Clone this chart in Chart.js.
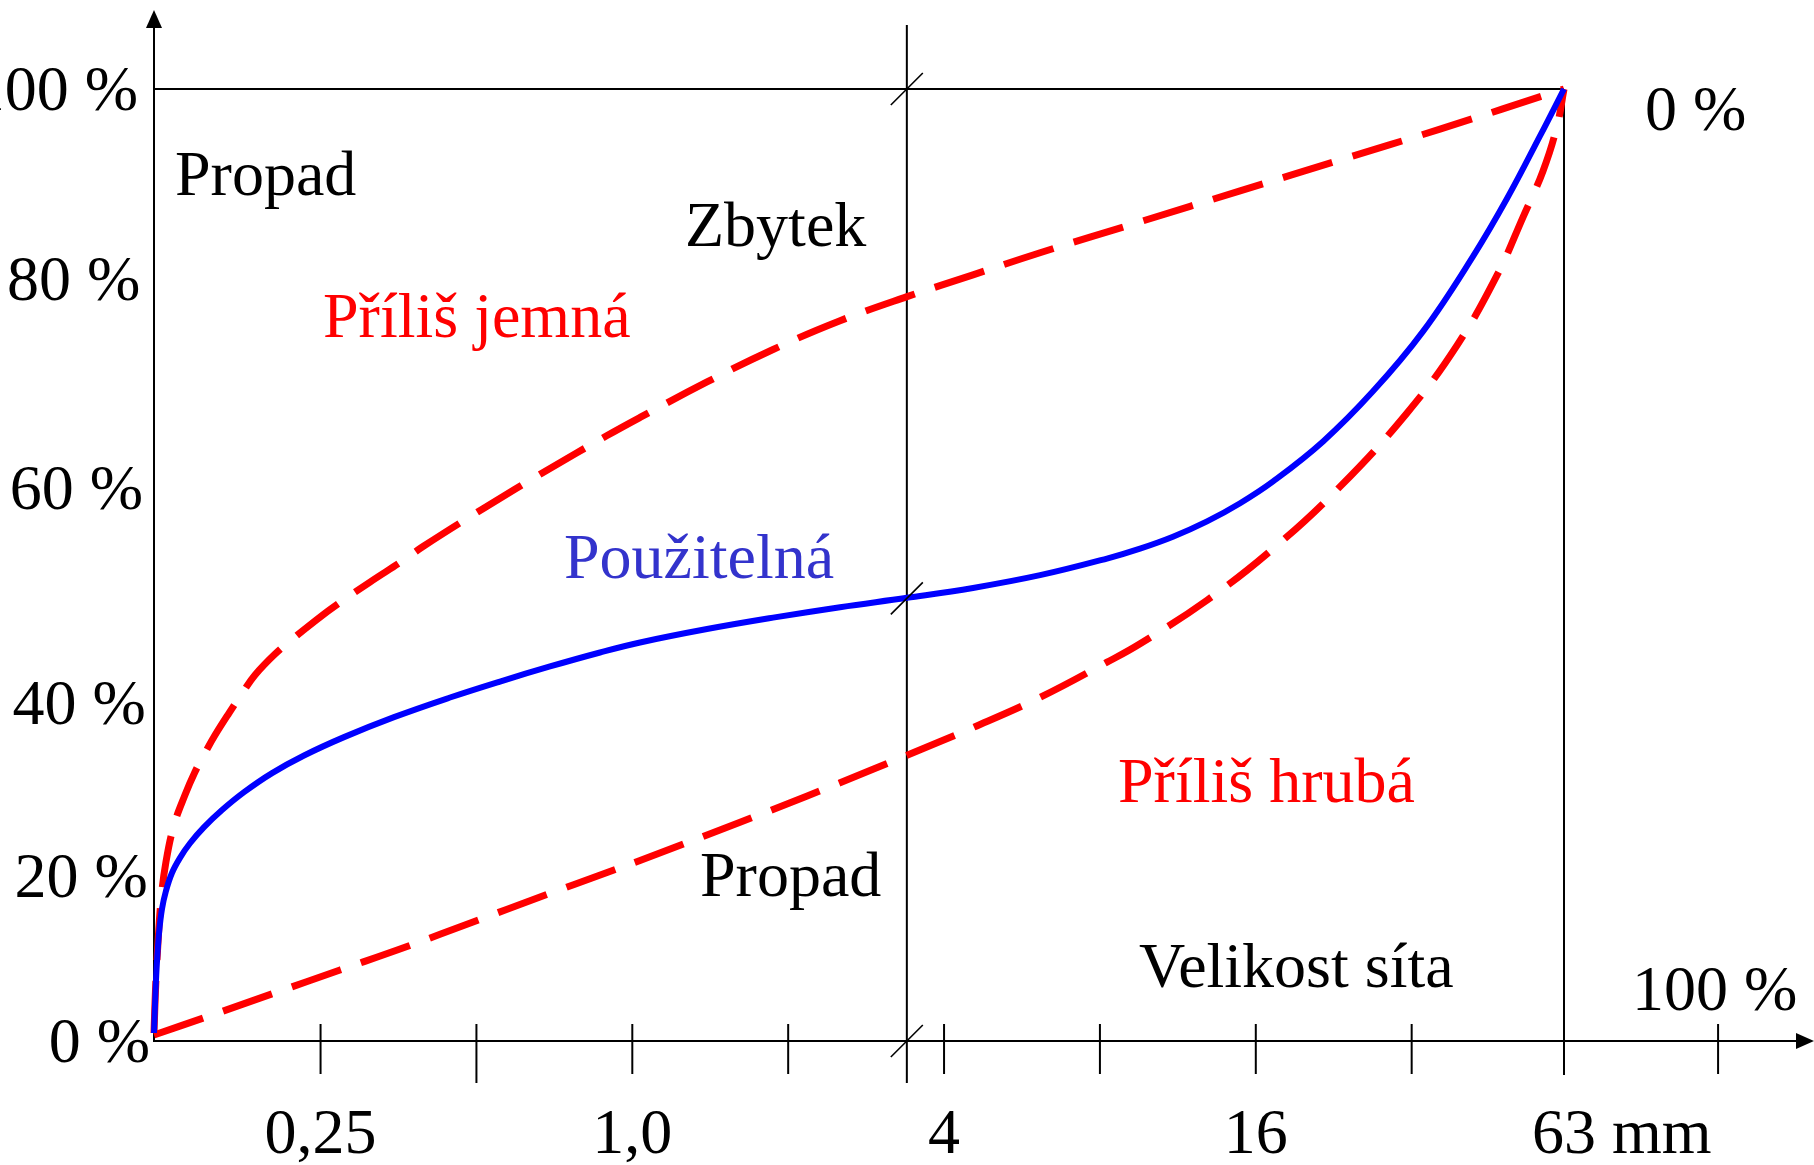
<!DOCTYPE html>
<html>
<head>
<meta charset="utf-8">
<script src="https://cdn.jsdelivr.net/npm/chart.js@4"></script>
<style>
  html, body { margin: 0; padding: 0; background: #fff; }
  canvas { display: block; }
</style>
</head>
<body>
<canvas id="sieveChart" width="1814" height="1165"></canvas>
<script>
// sieve size in mm (log axis) vs. passing in %
const usableSize = [0.1192, 0.12, 0.1208, 0.1219, 0.1235, 0.1257, 0.1291, 0.1338, 0.1399, 0.1489, 0.1613, 0.1779, 0.2015, 0.2323, 0.2775, 0.3466, 0.4446, 0.5552, 0.6935, 0.8663, 1.035, 1.394, 1.87, 2.519, 3.393, 4.55, 6.13, 8.256, 9.562, 11.07, 12.88, 14.92, 17.28, 21.58, 26.94, 33.66, 42.04, 48.9, 56.63, 63];
const usablePass = [0.84, 5.25, 8.4, 11.34, 13.87, 15.76, 17.65, 19.24, 20.77, 22.46, 24.26, 26.14, 28.14, 29.99, 31.92, 34.02, 36.08, 37.76, 39.34, 40.81, 41.86, 43.27, 44.47, 45.57, 46.55, 47.59, 48.93, 50.68, 51.72, 52.97, 54.58, 56.49, 58.78, 62.98, 68.24, 74.54, 82.42, 88.49, 95.07, 100];

const fineSize = [0.1192, 0.12, 0.1211, 0.123, 0.1257, 0.1303, 0.1368, 0.143, 0.1495, 0.1564, 0.1664, 0.1771, 0.1868, 0.2042, 0.2232, 0.2385, 0.2631, 0.3115, 0.3608, 0.3943, 0.5148, 0.6843, 0.8939, 1.035, 1.394, 1.87, 2.519, 3.393, 4.55, 6.13, 9.562, 14.92, 23.27, 36.3, 63];
const finePass = [0.84, 5.36, 9.56, 14.81, 18.8, 22.69, 25.84, 28.26, 30.25, 32.14, 34.45, 36.66, 38.45, 40.65, 42.44, 43.7, 45.48, 48.21, 50.47, 51.94, 55.91, 59.95, 63.6, 65.5, 69.23, 72.64, 75.66, 78.19, 80.48, 82.8, 86.05, 89.3, 92.54, 95.79, 100];

const coarseSize = [0.1192, 0.1509, 0.2024, 0.2726, 0.3672, 0.4925, 0.6634, 0.8939, 1.035, 1.394, 1.87, 2.519, 3.393, 4.55, 6.13, 8.256, 9.562, 12.88, 17.28, 23.27, 31.35, 39.15, 46.78, 52.51, 57.39, 61.08, 63];
const coarsePass = [0.63, 2.55, 4.99, 7.46, 9.93, 12.5, 15.13, 17.7, 18.96, 21.64, 24.32, 27.13, 30.02, 32.93, 36.09, 39.79, 41.73, 46.3, 51.71, 58.23, 65.97, 73.07, 80.44, 86.55, 91.39, 96.11, 100];

// x ticks (mm) and their labels
const xTicks = [0.25, 0.5, 1, 2, 4, 8, 16, 32, 63, 125];
const xTickLabels = ['0,25', '', '1,0', '', '4', '', '16', '', '63 mm', ''];
const xBreak = 3.39;

// y labels, placed where the drawing puts them (in %)
const yLabelAt = [0, 17.3, 35.5, 58.1, 80, 100];
const yLabels = ['0 %', '20 %', '40 %', '60 %', '80 %', '100 %'];

const pts = (xs, ys) => xs.map((v, i) => ({x: v, y: ys[i]}));
const FONT = '64px "Liberation Serif", "Times New Roman", serif';

function seg(ctx, x1, y1, x2, y2) {
    ctx.beginPath(); ctx.moveTo(x1, y1); ctx.lineTo(x2, y2); ctx.stroke();
}

const frame = {
    id: 'frame',
    beforeDatasetsDraw(chart) {
        const {ctx, chartArea: a, scales: {x, y}} = chart;
        const y0 = y.getPixelForValue(0), yTop = y.getPixelForValue(100);
        const xBr = x.getPixelForValue(xBreak), x63 = x.getPixelForValue(63);
        ctx.save();
        ctx.strokeStyle = '#000';
        ctx.fillStyle = '#000';
        ctx.lineWidth = 2;
        // axes
        seg(ctx, a.left, y0 + 1, a.left, 26);
        seg(ctx, a.left, y0, 1798, y0);
        ctx.beginPath(); ctx.moveTo(a.left, 10); ctx.lineTo(a.left - 8, 28); ctx.lineTo(a.left + 8, 28); ctx.fill();
        ctx.beginPath(); ctx.moveTo(1814, y0); ctx.lineTo(1796, y0 - 8); ctx.lineTo(1796, y0 + 8); ctx.fill();
        // frame lines
        seg(ctx, a.left, yTop, x63, yTop);
        seg(ctx, x63, yTop, x63, 1075);
        seg(ctx, xBr, 25, xBr, 1083);
        // ticks
        xTicks.forEach(v => {
            const px = x.getPixelForValue(v);
            seg(ctx, px, y0 - 17, px, v === 0.5 ? 1083 : 1074);
        });
        ctx.restore();
    },
    afterDatasetsDraw(chart) {
        const {ctx, chartArea: a, scales: {x, y}} = chart;
        const y0 = y.getPixelForValue(0), yTop = y.getPixelForValue(100);
        const xBr = x.getPixelForValue(xBreak);
        const yBr = y.getPixelForValue(46.5);
        ctx.save();
        ctx.strokeStyle = '#000';
        ctx.lineWidth = 1.6;
        [yTop, yBr, y0].forEach(py => seg(ctx, xBr - 16, py + 16, xBr + 16, py - 16));

        ctx.font = FONT;
        ctx.fillStyle = '#000';
        ctx.textBaseline = 'alphabetic';
        // y labels
        ctx.textAlign = 'right';
        yLabelAt.forEach((v, i) => ctx.fillText(yLabels[i], a.left - 4 - 0.12 * v, y.getPixelForValue(v) + 21));
        // x labels
        xTicks.forEach((v, i) => {
            const t = xTickLabels[i];
            if (!t) return;
            const px = x.getPixelForValue(v);
            const head = t.split(' ')[0];
            ctx.textAlign = 'left';
            ctx.fillText(t, px - ctx.measureText(head).width / 2, 1153);
        });
        // residue side
        ctx.textAlign = 'left';
        ctx.fillText('0 %', 1645, 130);
        ctx.fillText('100 %', 1632, 1010);

        // area notes
        ctx.fillText('Propad', 175, 195);
        ctx.fillText('Zbytek', 685, 246);
        ctx.fillText('Propad', 700, 896);
        ctx.fillText('Velikost síta', 1139, 987);
        ctx.fillStyle = '#ff0000';
        ctx.fillText('Příliš jemná', 323, 337);
        ctx.fillText('Příliš hrubá', 1118, 802);
        ctx.fillStyle = '#3333cc';
        ctx.fillText('Použitelná', 564, 578);
        ctx.restore();
    }
};

new Chart(document.getElementById('sieveChart').getContext('2d'), {
    type: 'line',
    data: {
        datasets: [
            {label: 'Použitelná', data: pts(usableSize, usablePass), borderColor: '#0000ff', borderWidth: 6},
            {label: 'Příliš jemná', data: pts(fineSize, finePass), borderColor: '#ff0000', borderWidth: 7, borderDash: [52, 21]},
            {label: 'Příliš hrubá', data: pts(coarseSize, coarsePass), borderColor: '#ff0000', borderWidth: 7, borderDash: [52, 21]}
        ]
    },
    options: {
        responsive: false,
        animation: false,
        clip: false,
        layout: {padding: {left: 154, top: 89, right: 250, bottom: 124}},
        elements: {
            point: {radius: 0},
            line: {tension: 0.4, fill: false, borderCapStyle: 'butt'}
        },
        plugins: {legend: {display: false}, tooltip: {enabled: false}},
        scales: {
            x: {type: 'logarithmic', min: 0.1192, max: 63, display: false},
            y: {type: 'linear', min: 0, max: 100, display: false}
        }
    },
    plugins: [frame]
});
</script>
</body>
</html>
